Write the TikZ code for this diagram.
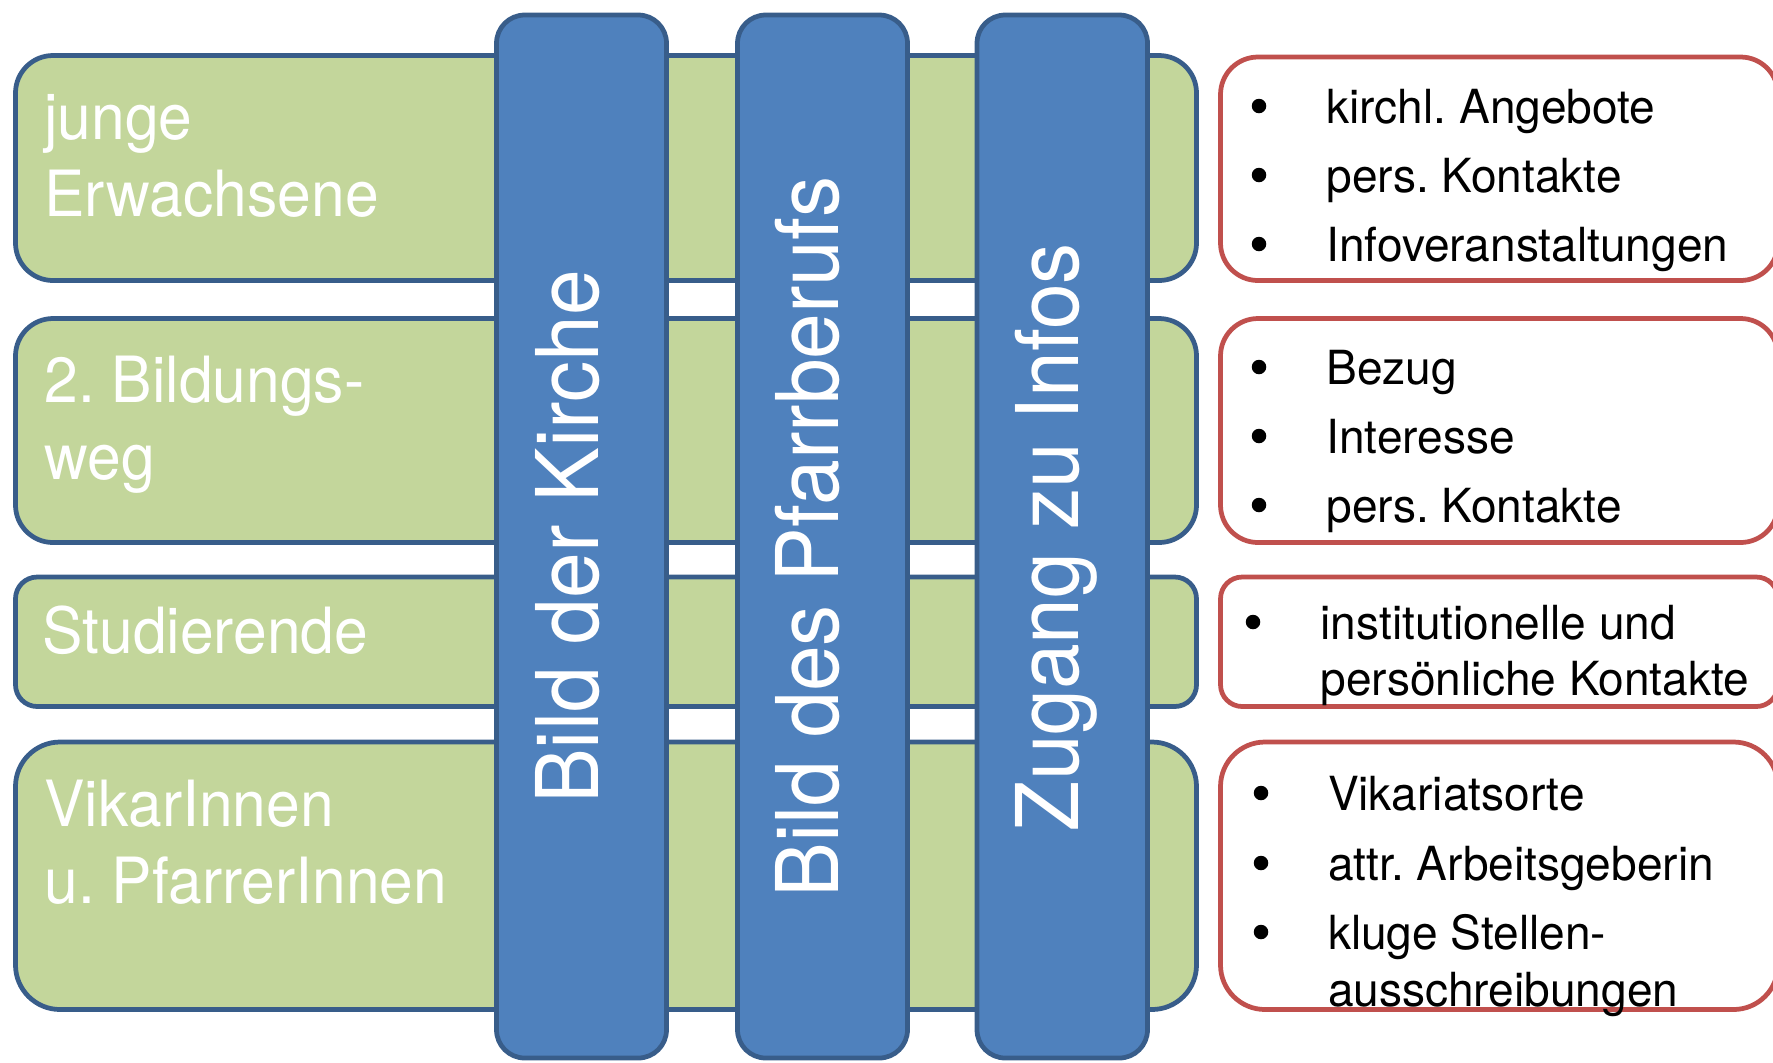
\documentclass[tikz,border=0pt]{standalone}
\usepackage{fontspec}
\setmainfont{TeX Gyre Heros}[FakeStretch=0.95]
\newfontfamily\rfont{TeX Gyre Heros}[FakeStretch=0.98]
\definecolor{gfill}{HTML}{C3D69B}
\definecolor{bfill}{HTML}{4F81BD}
\definecolor{edge}{HTML}{385D8A}
\definecolor{redc}{HTML}{C0504D}
\tikzset{
  greenbox/.style={fill=gfill, draw=edge, line width=1.9pt},
  bluecol/.style={fill=bfill, draw=edge, line width=1.9pt, rounded corners=11.3pt},
  redbox/.style={fill=white, draw=redc, line width=1.9pt},
  gtext/.style={text=white, font=\fontsize{25.5}{30}\selectfont, anchor=base west, inner sep=0pt},
  rtext/.style={text=black, font=\rfont\fontsize{18.8}{22}\selectfont, anchor=base west, inner sep=0pt},
  dot/.style={circle, fill=black, draw=none, minimum size=5.8pt, inner sep=0pt},
  ctext/.style={text=white, font=\fontsize{34.6}{40}\selectfont, rotate=90, anchor=base, inner sep=0pt},
}
\begin{document}
\frenchspacing
\begin{tikzpicture}[x=0.4pt,y=-0.4pt]
\useasboundingbox (0,0) rectangle (1773,1062);
\clip (0,0) rectangle (1773,1062);
% green rows
\draw[greenbox, rounded corners=15pt] (15.5,55.5) rectangle (1196.5,280.5);
\draw[greenbox, rounded corners=15pt] (15.5,318.5) rectangle (1196.5,542.5);
\draw[greenbox, rounded corners=8.7pt] (15.5,577) rectangle (1196.5,706.5);
\draw[greenbox, rounded corners=17.8pt] (15.5,742) rectangle (1196.5,1009.5);
\node[gtext] (t1a) at (44,139) {junge};
\node[gtext] (t1b) at (44,216) {Erwachsene};
\node[gtext] (t2a) at (44,402) {2. Bildungs-};
\node[gtext] (t2b) at (44,479) {weg};
\node[gtext] (t3a) at (42,653) {Studierende};
\node[gtext] (t4a) at (44,826) {VikarInnen};
\node[gtext] (t4b) at (44,903) {u. PfarrerInnen};
% blue columns
\draw[bluecol] (496.5,15) rectangle (666.5,1058);
\draw[bluecol] (737.5,15) rectangle (907.5,1058);
\draw[bluecol] (977,15) rectangle (1147.5,1058);
\node[ctext] (c1) at (598,537) {Bild der Kirche};
\node[ctext] (c2) at (838.5,537) {Bild des Pfarrberufs};
\node[ctext] (c3) at (1078,537) {Zugang zu Infos};
% red boxes
\draw[redbox, rounded corners=15pt] (1220.5,57) rectangle (1778,280.5);
\draw[redbox, rounded corners=15pt] (1220.5,318.5) rectangle (1778,542.5);
\draw[redbox, rounded corners=8.7pt] (1220.5,577) rectangle (1778,706.5);
\draw[redbox, rounded corners=17.8pt] (1220.5,742) rectangle (1778,1009.5);
% box 1
\node[dot] (b11) at (1259,106) {};
\node[rtext] (r11) at (1326,123) {kirchl. Angebote};
\node[dot] (b12) at (1259,175) {};
\node[rtext] (r12) at (1326,192) {pers. Kontakte};
\node[dot] (b13) at (1259,244) {};
\node[rtext] (r13) at (1326,261) {Infoveranstaltungen};
% box 2
\node[dot] (b21) at (1259,367) {};
\node[rtext] (r21) at (1326,384) {Bezug};
\node[dot] (b22) at (1259,436) {};
\node[rtext] (r22) at (1326,453) {Interesse};
\node[dot] (b23) at (1259,505) {};
\node[rtext] (r23) at (1326,522) {pers. Kontakte};
% box 3
\node[dot] (b31) at (1253,622) {};
\node[rtext] (r31) at (1320,639) {institutionelle und};
\node[rtext] (r32) at (1320,695) {persönliche Kontakte};
% box 4
\node[dot] (b41) at (1261,793) {};
\node[rtext] (r41) at (1327.5,810) {Vikariatsorte};
\node[dot] (b42) at (1261,863) {};
\node[rtext] (r42) at (1327.5,880) {attr. Arbeitsgeberin};
\node[dot] (b43) at (1261,932) {};
\node[rtext] (r43) at (1327.5,949) {kluge Stellen-};
\node[rtext] (r44) at (1327.5,1006) {ausschreibungen};
\end{tikzpicture}
\end{document}
